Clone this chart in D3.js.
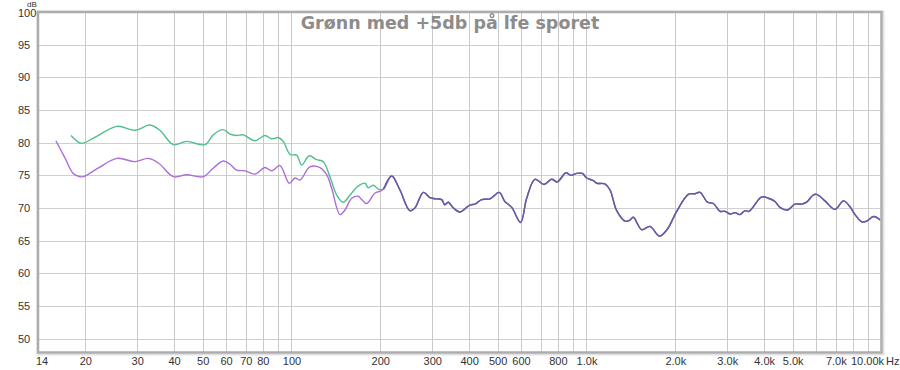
<!DOCTYPE html>
<html>
<head>
<meta charset="utf-8">
<script src="https://cdn.jsdelivr.net/npm/d3@7"></script>
<style>
  body { margin: 0; background: #fff; }
  svg { display: block; }
</style>
</head>
<body>
<svg id="chart" width="900" height="370"></svg>
<script>
// ---- Data ----
const titleText = "Grønn med +5db på lfe sporet";
const yTicks = [50, 55, 60, 65, 70, 75, 80, 85, 90, 95, 100];
const xTickValues = [14, 20, 30, 40, 50, 60, 70, 80, 100, 200, 300, 400, 500, 600, 800, 1000, 2000, 3000, 4000, 5000, 7000];
const xTickLabels = ["14", "20", "30", "40", "50", "60", "70", "80", "100", "200", "300", "400", "500", "600", "800", "1.0k", "2.0k", "3.0k", "4.0k", "5.0k", "7.0k"];
const endLabel = "10.00k";
const unitLabel = "Hz";
const yUnit = "dB";

// Green (+5 dB LFE) low-frequency part: [Hz, dB]
const greenLow = [
  [17.9, 81.1], [19.4, 79.9], [21.3, 80.7], [25.6, 82.5], [29.5, 81.9], [33.1, 82.7],
  [35.8, 81.9], [39.8, 79.7], [44.1, 80.2], [50.9, 79.7], [54.3, 81.2], [58.7, 82.0],
  [61.9, 81.3], [65.2, 81.1], [68.6, 81.2], [75.2, 80.3], [81.3, 81.1], [85.7, 80.6],
  [90.2, 80.8], [93.8, 80.2], [98.9, 78.2], [104.1, 78.1], [108.3, 76.6], [114.9, 78.0],
  [121.7, 77.4], [128.2, 77.1], [135, 74.8], [142.3, 72.0], [149.8, 70.9], [157.9, 72.0],
  [168.5, 73.4], [177.5, 73.8], [182.1, 73.1], [189.4, 73.5], [196.9, 72.9]
];
// Purple (reference) low-frequency part: [Hz, dB]
const purpleLow = [
  [15.9, 80.3], [17.1, 77.6], [18.2, 75.3], [19.2, 74.8], [19.7, 74.8], [22.1, 76.1],
  [25.6, 77.6], [29.5, 77.1], [32.7, 77.6], [35.4, 76.9], [39.8, 74.8], [44.1, 75.1],
  [50.2, 74.8], [54.3, 76.1], [58.7, 77.2], [61.9, 76.7], [65.2, 75.8], [69.6, 75.7],
  [75.2, 75.2], [81.3, 76.2], [85.7, 75.7], [91.4, 76.5], [98.3, 73.8], [102.8, 74.6],
  [106.9, 74.3], [115.5, 76.3], [124.9, 76.2], [131.6, 75.1], [136.9, 73.0], [146.0, 69.0],
  [151.8, 69.7], [160, 71.5], [168.5, 71.8], [173, 71.3], [179.9, 70.7], [191.9, 72.3],
  [200, 72.6]
];
// Common part above ~200 Hz (both curves coincide): [Hz, dB]
const sharedHigh = [
  [205, 72.9], [218.6, 74.9], [233, 72.8], [252, 69.6], [262, 70.0], [280, 72.4],
  [295, 71.6], [311, 71.4], [323, 71.3], [331, 70.5], [340, 70.9], [354, 70.0],
  [373, 69.4], [403, 70.5], [419, 70.6], [441, 71.3], [471, 71.4], [506, 72.4],
  [529, 71.0], [558, 70.1], [598, 67.8], [627, 71.5], [669, 74.4], [718, 73.6],
  [762, 74.4], [796, 74.0], [852, 75.4], [884, 75.0], [927, 75.3], [968, 75.3],
  [1002, 74.6], [1054, 74.2], [1083, 73.8], [1155, 73.7], [1201, 72.8], [1266, 69.6],
  [1351, 68.0], [1399, 68.1], [1441, 68.6], [1538, 66.7], [1641, 67.2], [1768, 65.7],
  [1882, 66.8], [2022, 69.5], [2214, 72.1], [2334, 72.2], [2426, 72.4], [2572, 70.9],
  [2692, 70.7], [2836, 69.5], [2949, 69.5], [3064, 69.1], [3188, 69.3], [3315, 69.0],
  [3447, 69.6], [3556, 69.5], [3926, 71.7], [4134, 71.5], [4355, 71.0], [4528, 70.1],
  [4801, 69.7], [5090, 70.6], [5364, 70.6], [5576, 70.9], [5871, 72.0], [6030, 72.1],
  [6434, 71.1], [6957, 69.8], [7434, 71.1], [7822, 70.2], [8134, 69.0], [8570, 67.9],
  [8910, 68.0], [9396, 68.7], [9884, 68.2]
];

// ---- Layout ----
const svg = d3.select("#chart");
const pLeft = 38, pRight = 881.5, pTop = 12, pBottom = 352.5;
const x = d3.scaleLog().domain([13.83, 10000]).range([pLeft, pRight]);
const y = d3.scaleLinear().domain([47.9, 100]).range([pBottom, pTop]);

// grid lines
const gridX = [];
[10, 100, 1000].forEach(d => { for (let m = 1; m <= 9; m++) { const v = d * m; if (v > 14 && v < 10000) gridX.push(v); } });
const gridY = yTicks.filter(v => v < 100);

const grid = svg.append("g");
grid.selectAll("line.gx").data(gridX).enter().append("line")
  .attr("x1", d => Math.round(x(d)) + 0.5).attr("x2", d => Math.round(x(d)) + 0.5)
  .attr("y1", pTop).attr("y2", pBottom)
  .attr("stroke", "#c9c9c9").attr("stroke-width", 1);
grid.selectAll("line.gy").data(gridY).enter().append("line")
  .attr("x1", pLeft).attr("x2", pRight)
  .attr("y1", d => Math.round(y(d)) + 0.5).attr("y2", d => Math.round(y(d)) + 0.5)
  .attr("stroke", "#cfcfcf").attr("stroke-width", 1.2);

// frame with soft shadow
svg.append("rect").attr("x", pLeft - 0.5).attr("y", pTop - 0.5).attr("width", pRight - pLeft + 2.5).attr("height", pBottom - pTop + 2.5)
  .attr("fill", "none").attr("stroke", "#e2e2e2").attr("stroke-width", 2);
svg.append("rect").attr("x", pLeft).attr("y", pTop).attr("width", pRight - pLeft).attr("height", pBottom - pTop)
  .attr("fill", "none").attr("stroke", "#adadad").attr("stroke-width", 2.5);

// curves
const line = d3.line().x(d => x(d[0])).y(d => y(d[1])).curve(d3.curveCatmullRom.alpha(0.5));
const greenColor = "#4fbf8b", purpleColor = "#ab6fd3", overlapColor = "#675aa4";
svg.append("path").datum(greenLow.concat(sharedHigh)).attr("d", line)
  .attr("fill", "none").attr("stroke", greenColor).attr("stroke-width", 1.4);
svg.append("path").datum(purpleLow.concat(sharedHigh)).attr("d", line)
  .attr("fill", "none").attr("stroke", purpleColor).attr("stroke-width", 1.4);
svg.append("path").datum(sharedHigh).attr("d", line)
  .attr("fill", "none").attr("stroke", overlapColor).attr("stroke-width", 1.4);

// axes
const font = "'Liberation Sans', Arial, sans-serif";
const xAxis = d3.axisBottom(x).tickValues(xTickValues)
  .tickFormat((d, i) => xTickLabels[i]).tickSize(0).tickPadding(0);
const gx = svg.append("g").attr("transform", `translate(0, 357)`).call(xAxis);
gx.select(".domain").remove();
gx.selectAll("text").attr("font-family", font).attr("font-size", 11).attr("fill", "#333").attr("dy", "0.71em");
gx.selectAll(".tick").filter(d => d === 14).select("text").attr("dx", 2);

svg.append("text").attr("x", 884).attr("y", 365).attr("text-anchor", "end")
  .attr("font-family", font).attr("font-size", 11).attr("fill", "#333").text(endLabel);
svg.append("text").attr("x", 886).attr("y", 365).attr("text-anchor", "start")
  .attr("font-family", font).attr("font-size", 11).attr("fill", "#333").text(unitLabel);

const yAxis = d3.axisLeft(y).tickValues(yTicks).tickSize(0).tickPadding(0);
const gy = svg.append("g").attr("transform", `translate(18, 0)`).call(yAxis);
gy.select(".domain").remove();
gy.selectAll("text").attr("text-anchor", "start").attr("font-family", font)
  .attr("font-size", 11).attr("fill", "#333");
gy.selectAll(".tick").filter(d => d === 100).select("text").attr("dy", "0.45em");

svg.append("text").attr("x", 32).attr("y", 6.5).attr("text-anchor", "middle")
  .attr("font-family", font).attr("font-size", 8).attr("fill", "#333").text(yUnit);

// title
svg.append("text").attr("x", 450).attr("y", 29).attr("text-anchor", "middle")
  .attr("font-family", "'DejaVu Sans', sans-serif").attr("font-weight", "bold")
  .attr("font-size", 17.5).attr("fill", "#8c8c8c").text(titleText);
</script>
</body>
</html>
